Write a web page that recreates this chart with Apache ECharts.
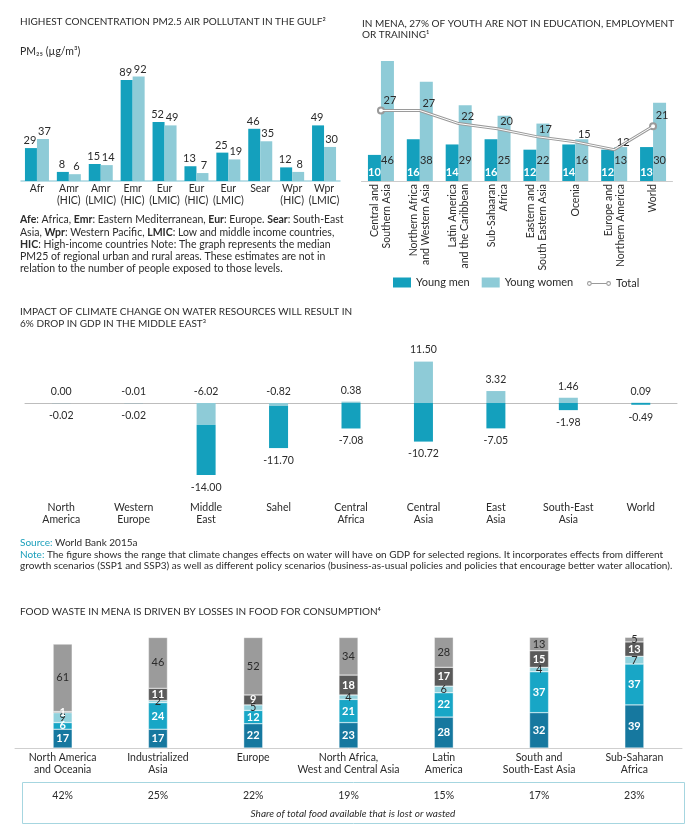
<!DOCTYPE html>
<html><head><meta charset="utf-8">
<script src="https://cdn.jsdelivr.net/npm/echarts@6/dist/echarts.min.js"></script>
<style>html,body{margin:0;padding:0;background:#fff}#c{width:693px;height:834px}</style>
</head><body><div id="c"></div>
<script>
// ---- Data ----
const pmCategories = ['Afr','Amr\n(HIC)','Amr\n(LMIC)','Emr\n(HIC)','Eur\n(LMIC)','Eur\n(HIC)','Eur\n(LMIC)','Sear','Wpr\n(HIC)','Wpr\n(LMIC)'];
const pmSeriesA = [29, 8, 15, 89, 52, 13, 25, 46, 12, 49];
const pmSeriesB = [37, 6, 14, 92, 49, 7, 19, 35, 8, 30];

const neetCategories = ['Central and\nSouthern Asia','Northern Africa\nand Western Asia','Latin America\nand the Caribbean','Sub-Sahaaran\nAfrica','Eastern and\nSouth Eastern Asia','Ocenia','Europe and\nNorthern America','World'];
const neetYoungMen = [10, 16, 14, 16, 12, 14, 12, 13];
const neetYoungWomen = [46, 38, 29, 25, 22, 16, 13, 30];
const neetTotal = [27, 27, 22, 20, 17, 15, 12, 21];

const waterCategories = ['North\nAmerica','Western\nEurope','Middle\nEast','Sahel','Central\nAfrica','Central\nAsia','East\nAsia','South-East\nAsia','World'];
const waterUpper = [0.00, -0.01, -6.02, -0.82, 0.38, 11.50, 3.32, 1.46, 0.09];
const waterLower = [-0.02, -0.02, -14.00, -11.70, -7.08, -10.72, -7.05, -1.98, -0.49];

const foodCategories = ['North America\nand Oceania','Industrialized\nAsia','Europe','North Africa,\nWest and Central Asia','Latin\nAmerica','South and\nSouth-East Asia','Sub-Saharan\nAfrica'];
const foodShare = ['42%','25%','22%','19%','15%','17%','23%'];
const foodSeg1 = [17, 17, 22, 23, 28, 32, 39];
const foodSeg2 = [6, 24, 12, 21, 22, 37, 37];
const foodSeg3 = [9, 2, 5, 4, 6, 4, 7];
const foodSeg4 = [1, 11, 9, 18, 17, 15, 13];
const foodSeg5 = [61, 46, 52, 34, 28, 13, 5];

// ---- Style ----
const FONT = 'Lato, "Noto Sans", sans-serif';
const TXT = '#2b2b2b';
const DARK = '#14a0bd';
const LIGHT = '#8ecbd7';
const ringIcon = 'path://M0,5A3,3 0 1,1 6,5A3,3 0 1,1 0,5ZM1.3,5A1.7,1.7 0 1,0 4.7,5A1.7,1.7 0 1,0 1.3,5ZM6,4.4L24,4.4L24,5.6L6,5.6ZM24,5A3,3 0 1,1 30,5A3,3 0 1,1 24,5ZM25.3,5A1.7,1.7 0 1,0 28.7,5A1.7,1.7 0 1,0 25.3,5Z';

const chart = echarts.init(document.getElementById('c'), null, {renderer: 'canvas'});

function txt(x, y, text, extra) {
  return {type: 'text', x: x, y: y, style: Object.assign({text: text, font: '10px ' + FONT, fill: TXT, lineHeight: 12, verticalAlign: 'top'}, extra || {})};
}

const fmt2 = p => p.value.toFixed(2);

const option = {
  animation: false,
  textStyle: {fontFamily: FONT},
  grid: [
    {left: 21, top: 67.5, width: 319, height: 113.5},
    {left: 361.5, top: 50.5, width: 311, height: 130.5},
    {left: 25, top: 349, width: 652, height: 144},
    {left: 15, top: 637.5, width: 667, height: 110.5}
  ],
  legend: [
    {data: ['Young men', 'Young women'], left: 388, top: 272, itemWidth: 18, itemHeight: 10, itemGap: 12, icon: 'rect',
     textStyle: {fontSize: 11, color: TXT, fontFamily: FONT}, selectedMode: false},
    {data: [{name: 'Total', icon: ringIcon, itemStyle: {color: '#9a9a9a'}}], left: 582, top: 273, itemWidth: 24, itemHeight: 8,
     textStyle: {fontSize: 11, color: TXT, fontFamily: FONT}, itemStyle: {color: '#9a9a9a'}, selectedMode: false}
  ],
  xAxis: [
    {gridIndex: 0, type: 'category', data: pmCategories, axisTick: {show: false},
     axisLine: {lineStyle: {color: '#a8d5df', width: 1.5}},
     axisLabel: {interval: 0, fontSize: 10.5, lineHeight: 12, color: TXT, margin: 2}},
    {gridIndex: 1, type: 'category', data: neetCategories, axisTick: {show: false},
     axisLine: {lineStyle: {color: '#cccccc'}},
     axisLabel: {interval: 0, rotate: 90, fontSize: 10.5, lineHeight: 12, color: TXT, margin: 3}},
    {gridIndex: 2, type: 'category', data: waterCategories, axisTick: {show: false},
     axisLine: {onZero: true, lineStyle: {color: '#bdbdbd'}}, axisLabel: {show: false}},
    {gridIndex: 2, type: 'category', data: waterCategories, axisTick: {show: false}, position: 'bottom',
     axisLine: {show: false, onZero: false},
     axisLabel: {interval: 0, fontSize: 10.5, lineHeight: 12, color: TXT, margin: 9}},
    {gridIndex: 3, type: 'category', data: foodCategories, axisTick: {show: false},
     axisLine: {lineStyle: {color: '#cfcfcf'}},
     axisLabel: {interval: 0, fontSize: 10.5, lineHeight: 12, color: TXT, margin: 4}},
    {gridIndex: 3, type: 'category', data: foodShare, axisTick: {show: false}, position: 'bottom', offset: 38,
     axisLine: {show: false, onZero: false},
     axisLabel: {interval: 0, fontSize: 10.5, color: TXT, margin: 4}}
  ],
  yAxis: [
    {gridIndex: 0, type: 'value', min: 0, max: 100, show: false},
    {gridIndex: 1, type: 'value', min: 0, max: 50, show: false},
    {gridIndex: 2, type: 'value', min: -25, max: 15, show: false},
    {gridIndex: 3, type: 'value', min: 0, max: 100, show: false}
  ],
  series: [
    // PM2.5
    {type: 'bar', xAxisIndex: 0, yAxisIndex: 0, data: pmSeriesA, barWidth: 12, barGap: '0%',
     itemStyle: {color: DARK}, label: {show: true, position: 'top', distance: 2, offset: [-1, 0], fontSize: 11, color: TXT}},
    {type: 'bar', xAxisIndex: 0, yAxisIndex: 0, data: pmSeriesB, barWidth: 12, barGap: '0%',
     itemStyle: {color: LIGHT}, label: {show: true, position: 'top', distance: 2, offset: [1.5, 0], fontSize: 11, color: TXT}},
    // NEET
    {name: 'Young men', type: 'bar', xAxisIndex: 1, yAxisIndex: 1, data: neetYoungMen, barWidth: 13, barGap: '0%',
     itemStyle: {color: DARK}, label: {show: true, position: 'insideBottom', distance: 3, fontSize: 11, fontWeight: 'bold', color: '#fff'}},
    {name: 'Young women', type: 'bar', xAxisIndex: 1, yAxisIndex: 1, data: neetYoungWomen, barWidth: 13, barGap: '0%',
     itemStyle: {color: LIGHT}, label: {show: true, position: 'insideBottom', distance: 15, fontSize: 11, color: TXT}},
    {name: 'Total', type: 'line', xAxisIndex: 1, yAxisIndex: 1,
     data: neetTotal.map((v, i) => ({value: v, symbolSize: (i === 0 || i === neetTotal.length - 1) ? 6 : 0.01})),
     symbol: 'emptyCircle', lineStyle: {color: '#9a9a9a', width: 3}, itemStyle: {color: '#9a9a9a', borderWidth: 1.5}, z: 5,
     label: {show: true, position: 'top', offset: [9, 4], fontSize: 11, color: TXT}},
    {name: 'TotalInner', type: 'line', xAxisIndex: 1, yAxisIndex: 1, data: neetTotal, symbol: 'none', silent: true,
     lineStyle: {color: '#ffffff', width: 1}, z: 6},
    // Water
    {type: 'bar', xAxisIndex: 2, yAxisIndex: 2, data: waterUpper, stack: 'w', barWidth: 19,
     itemStyle: {color: LIGHT}, label: {show: true, position: 'top', distance: 6, fontSize: 10.5, color: TXT, formatter: fmt2}},
    {type: 'bar', xAxisIndex: 2, yAxisIndex: 2, data: waterLower, stack: 'w', barWidth: 19,
     itemStyle: {color: DARK}, label: {show: true, position: 'bottom', distance: 7, fontSize: 10.5, color: TXT, formatter: fmt2}},
    // Food
    {type: 'bar', xAxisIndex: 4, yAxisIndex: 3, data: foodSeg1, stack: 'f', barWidth: 19,
     itemStyle: {color: '#16789f', borderColor: '#fff', borderWidth: 0.4}, label: {show: true, position: 'inside', fontSize: 11, fontWeight: 'bold', color: '#fff'}},
    {type: 'bar', xAxisIndex: 4, yAxisIndex: 3, data: foodSeg2, stack: 'f', barWidth: 19,
     itemStyle: {color: '#18a6c6', borderColor: '#fff', borderWidth: 0.4}, label: {show: true, position: 'inside', fontSize: 11, fontWeight: 'bold', color: '#fff'}},
    {type: 'bar', xAxisIndex: 4, yAxisIndex: 3, data: foodSeg3, stack: 'f', barWidth: 19,
     itemStyle: {color: '#92d2dd', borderColor: '#fff', borderWidth: 0.4}, label: {show: true, position: 'inside', fontSize: 11, color: TXT}},
    {type: 'bar', xAxisIndex: 4, yAxisIndex: 3, data: foodSeg4, stack: 'f', barWidth: 19,
     itemStyle: {color: '#5a5a5a', borderColor: '#fff', borderWidth: 0.4}, label: {show: true, position: 'inside', fontSize: 11, fontWeight: 'bold', color: '#fff'}},
    {type: 'bar', xAxisIndex: 4, yAxisIndex: 3, data: foodSeg5, stack: 'f', barWidth: 19,
     itemStyle: {color: '#9b9b9b', borderColor: '#fff', borderWidth: 0.4}, label: {show: true, position: 'inside', fontSize: 11, color: TXT}}
  ],
  graphic: [
    txt(20, 16, 'HIGHEST CONCENTRATION PM2.5 AIR POLLUTANT IN THE GULF\u00B2'),
    txt(20, 46, 'PM\u2082\u2085 (\u00B5g/m\u00B3)', {font: '10.5px ' + FONT}),
    txt(20, 214, '{b|Afe}: Africa, {b|Emr}: Eastern Mediterranean, {b|Eur}: Europe. {b|Sear}: South-East\nAsia, {b|Wpr}: Western Pacific, {b|LMIC}: Low and middle income countries,\n{b|HIC}: High-income countries Note: The graph represents the median\nPM25 of regional urban and rural areas. These estimates are not in\nrelation to the number of people exposed to those levels.',
      {font: '10.5px ' + FONT, lineHeight: 12.2, rich: {b: {fontWeight: 'bold', fontSize: 10.5, fontFamily: FONT, fill: TXT, lineHeight: 12.2}}}),
    txt(362, 18, 'IN MENA, 27% OF YOUTH ARE NOT IN EDUCATION, EMPLOYMENT\nOR TRAINING\u00B9', {lineHeight: 11.5}),
    txt(20, 306, 'IMPACT OF CLIMATE CHANGE ON WATER RESOURCES WILL RESULT IN\n6% DROP IN GDP IN THE MIDDLE EAST\u00B3', {lineHeight: 12}),
    txt(20, 537, '{t|Source:} World Bank 2015a\n{t|Note:} The figure shows the range that climate changes effects on water will have on GDP for selected regions. It incorporates effects from different\ngrowth scenarios (SSP1 and SSP3) as well as different policy scenarios (business-as-usual policies and policies that encourage better water allocation).',
      {font: '10px ' + FONT, lineHeight: 11.7, rich: {t: {fill: '#1a9fbb', fontSize: 10, fontFamily: FONT, lineHeight: 11.7}}}),
    txt(20, 606, 'FOOD WASTE IN MENA IS DRIVEN BY LOSSES IN FOOD FOR CONSUMPTION\u2074'),
    {type: 'rect', shape: {x: 22.5, y: 782.5, width: 662, height: 41}, style: {fill: 'none', stroke: '#a6d6e0', lineWidth: 1}},
    txt(353, 808, 'Share of total food available that is lost or wasted', {font: 'italic 10px ' + FONT, align: 'center'})
  ]
};
chart.setOption(option);
</script>
</body></html>
